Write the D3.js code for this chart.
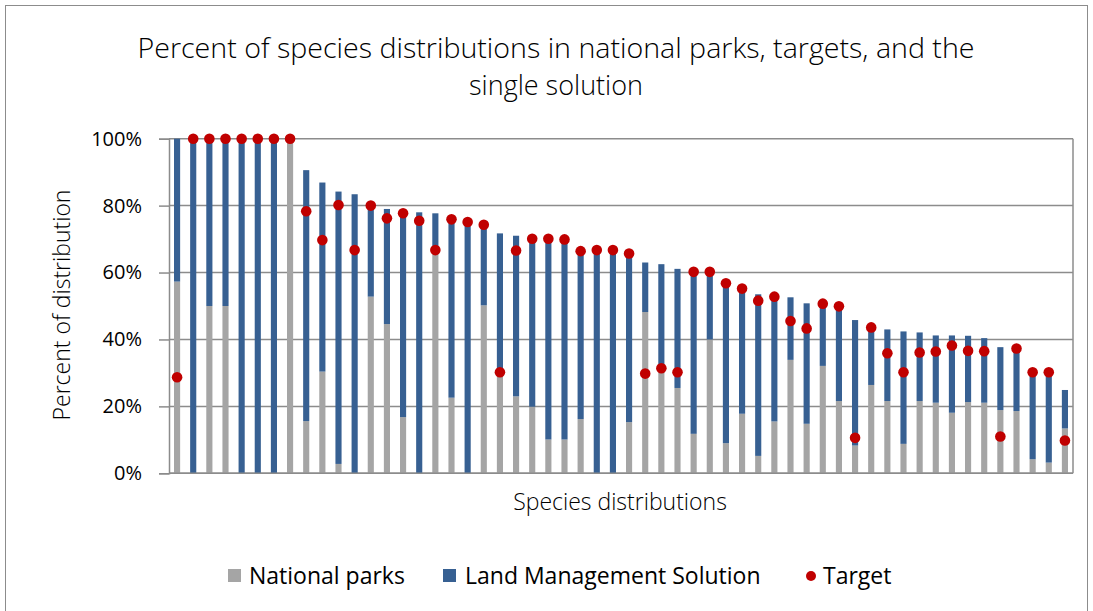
<!DOCTYPE html>
<html><head><meta charset="utf-8">
<script src="https://cdn.jsdelivr.net/npm/d3@7"></script>
<style>body{margin:0;background:#fff;} svg{display:block;font-family:"Open Sans",sans-serif;}</style>
</head><body>
<svg id="c" width="1093" height="611"></svg>
<script>
const categories = d3.range(1, 57).map(i => "S" + i);
const nationalParks = [57.3,0,50,50,0,0,0,100,15.6,30.4,2.8,0,52.8,44.6,16.8,0,66.7,22.6,0,50.2,30.2,23.0,19.9,10.1,10.1,16.2,0,0,15.3,48.2,30.5,25.5,11.8,40.0,9.0,17.8,5.2,15.5,33.9,14.8,32.1,21.6,8.3,26.4,21.6,8.8,21.6,21.1,18.1,21.3,21.1,18.9,18.6,4.2,3.2,13.4];
const landManagement = [42.7,100,50,50,100,100,100,0,75.0,56.5,81.4,83.4,27.2,34.4,61.2,78.0,11.0,53.4,75.3,24.0,41.5,48.0,50.2,60.0,59.8,50.2,66.7,66.7,50.4,14.8,32.0,35.6,48.4,20.2,47.8,37.4,48.3,37.3,18.7,36.0,18.6,28.3,37.5,17.2,21.4,33.6,20.5,20.1,23.1,19.8,19.3,18.8,18.9,26.0,27.0,11.5];
const target = [28.7,100,100,100,100,100,100,100,78.3,69.7,80.2,66.7,80.0,76.2,77.7,75.5,66.7,75.9,75.1,74.3,30.2,66.6,70.1,70.1,69.9,66.4,66.7,66.7,65.7,29.8,31.4,30.2,60.2,60.2,56.8,55.2,51.6,52.8,45.5,43.3,50.7,49.9,10.6,43.6,35.9,30.2,36.1,36.4,38.2,36.6,36.5,11.0,37.3,30.2,30.2,9.8];
const yTicks = [0,20,40,60,80,100];
const seriesNames = ["National parks","Land Management Solution","Target"];
const colors = {np:"#a5a5a5", lms:"#376092", tgt:"#c00000"};

const svg = d3.select("#c");
const m = {l:169, r:1073, t:138.7, b:473.3};

// outer frame
svg.append("rect").attr("x",5.5).attr("y",5.5).attr("width",1082).attr("height",620)
  .attr("fill","none").attr("stroke","#8c8c8c").attr("stroke-width",1);

const x = d3.scaleBand().domain(categories).range([m.l, m.r]).paddingInner(0.62).paddingOuter(0.31);
const y = d3.scaleLinear().domain([0,100]).range([m.b, m.t]);

// gridlines
svg.append("g").selectAll("line").data(yTicks).join("line")
  .attr("x1", m.l).attr("x2", m.r).attr("y1", d=>y(d)).attr("y2", d=>y(d))
  .attr("stroke","#8c8c8c").attr("stroke-width",1.5);
// right border
svg.append("line").attr("x1",m.r).attr("x2",m.r).attr("y1",m.t).attr("y2",m.b)
  .attr("stroke","#8c8c8c").attr("stroke-width",1.5);

// y axis
const yAxis = d3.axisLeft(y).tickValues(yTicks).tickFormat(d=>d+"%").tickSize(10).tickPadding(17);
const ga = svg.append("g").attr("transform",`translate(${m.l},0)`).call(yAxis);
ga.select(".domain").attr("stroke","#8c8c8c").attr("stroke-width",1.5);
ga.selectAll(".tick line").attr("stroke","#8c8c8c").attr("stroke-width",1.5);
ga.selectAll(".tick text").attr("font-size",20).attr("fill","#000").attr("font-family","Open Sans");

// stacked bars
const stackData = categories.map((c,i)=>({cat:c, np:nationalParks[i], lms:landManagement[i]}));
const stacked = d3.stack().keys(["np","lms"])(stackData);
svg.append("g").selectAll("g").data(stacked).join("g")
  .attr("fill", s=>colors[s.key])
  .selectAll("rect").data(s=>s).join("rect")
  .attr("x", d=>x(d.data.cat)).attr("width", x.bandwidth())
  .attr("y", d=>y(d[1])).attr("height", d=>y(d[0])-y(d[1]));

// x axis line
svg.append("line").attr("x1",m.l).attr("x2",m.r).attr("y1",m.b).attr("y2",m.b)
  .attr("stroke","#8c8c8c").attr("stroke-width",1.5);

// target dots
svg.append("g").selectAll("circle").data(target).join("circle")
  .attr("cx",(d,i)=>x(categories[i])+x.bandwidth()/2).attr("cy",d=>y(d)).attr("r",5.3)
  .attr("fill",colors.tgt);

// titles
const title = svg.append("text").attr("text-anchor","middle").attr("font-size",27).attr("font-weight",300).attr("fill","#000");
title.append("tspan").attr("x",556).attr("y",58).attr("textLength",837).attr("lengthAdjust","spacingAndGlyphs").text("Percent of species distributions in national parks, targets, and the");
title.append("tspan").attr("x",556).attr("y",95).text("single solution");

svg.append("text").attr("x",620).attr("y",510).attr("text-anchor","middle").attr("font-size",23).attr("font-weight",300).text("Species distributions");
svg.append("text").attr("transform","translate(70,305) rotate(-90)").attr("text-anchor","middle").attr("font-size",23).attr("font-weight",300).text("Percent of distribution");

// legend
const lg = svg.append("g").attr("font-size",23);
lg.append("rect").attr("x",228).attr("y",569).attr("width",13).attr("height",13).attr("fill",colors.np);
lg.append("text").attr("x",249).attr("y",584).text(seriesNames[0]);
lg.append("rect").attr("x",443).attr("y",569).attr("width",13).attr("height",13).attr("fill",colors.lms);
lg.append("text").attr("x",465).attr("y",584).text(seriesNames[1]);
lg.append("circle").attr("cx",811).attr("cy",576).attr("r",5).attr("fill",colors.tgt);
lg.append("text").attr("x",823).attr("y",584).text(seriesNames[2]);
</script>
</body></html>
